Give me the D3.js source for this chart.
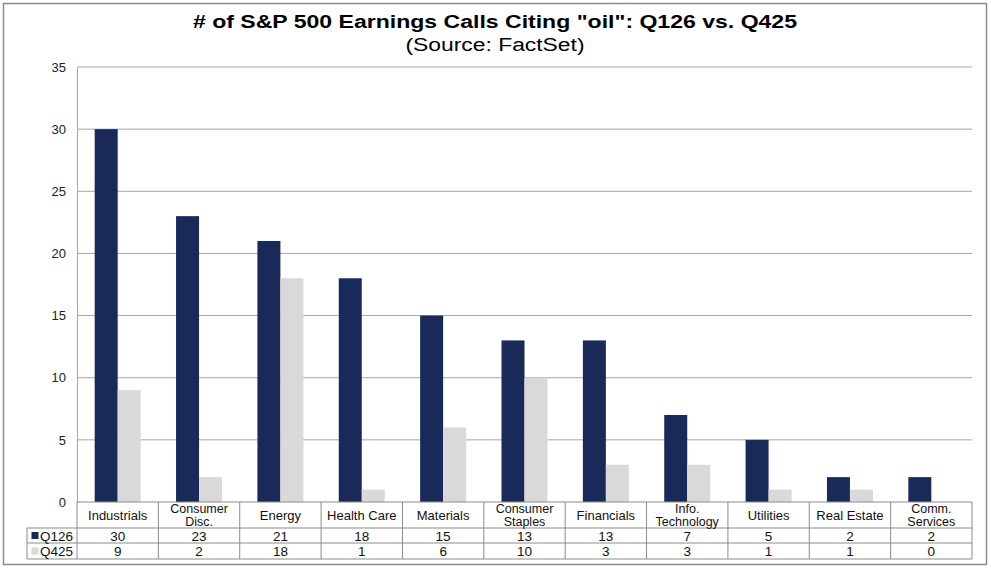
<!DOCTYPE html>
<html><head><meta charset="utf-8">
<script src="https://cdn.jsdelivr.net/npm/d3@7"></script>
<style>
body{margin:0;background:#fff;}
text{font-family:"Liberation Sans",Arial,sans-serif;}
</style></head>
<body>
<svg id="c" width="991" height="570"></svg>
<script>
const categories = ["Industrials","Consumer Disc.","Energy","Health Care","Materials","Consumer Staples","Financials","Info. Technology","Utilities","Real Estate","Comm. Services"];
const categoryLines = [["Industrials"],["Consumer","Disc."],["Energy"],["Health Care"],["Materials"],["Consumer","Staples"],["Financials"],["Info.","Technology"],["Utilities"],["Real Estate"],["Comm.","Services"]];
const seriesNames = ["Q126","Q425"];
const q126 = [30,23,21,18,15,13,13,7,5,2,2];
const q425 = [9,2,18,1,6,10,3,3,1,1,0];
const yTicks = [0,5,10,15,20,25,30,35];
const colors = ["#1a2a58","#d9d9d9"];

const svg = d3.select("#c");
const L = 77, R = 972, T = 67, B = 502;
const rowTop = [502,528,543,559];
const legL = 27;

svg.append("rect").attr("x",3.5).attr("y",3.5).attr("width",983).attr("height",561)
  .attr("fill","none").attr("stroke","#8c8c8c").attr("stroke-width",1.5);

svg.append("text").attr("x",495).attr("y",28).attr("text-anchor","middle")
  .attr("font-size",18).attr("font-weight","bold").attr("fill","#000")
  .attr("textLength",604).attr("lengthAdjust","spacingAndGlyphs")
  .text('# of S&P 500 Earnings Calls Citing "oil": Q126 vs. Q425');
svg.append("text").attr("x",495).attr("y",51).attr("text-anchor","middle")
  .attr("font-size",18).attr("fill","#000")
  .attr("textLength",179).attr("lengthAdjust","spacingAndGlyphs")
  .text("(Source: FactSet)");

const x = d3.scaleBand().domain(categories).range([L,R]).padding(0);
const y = d3.scaleLinear().domain([0,35]).range([B,T]);
const bw = 23;

svg.append("g").selectAll("line").data(yTicks.filter(d=>d>0)).join("line")
  .attr("x1",L).attr("x2",R).attr("y1",d=>y(d)).attr("y2",d=>y(d))
  .attr("stroke","#a6a6a6").attr("stroke-width",1);

const ya = svg.append("g").attr("transform",`translate(${L},0)`)
  .call(d3.axisLeft(y).tickValues(yTicks).tickSize(0).tickPadding(11));
ya.select(".domain").attr("stroke","#a6a6a6");
ya.selectAll("text").attr("font-size",13).attr("fill","#222")
  .attr("font-family","'Liberation Sans',Arial,sans-serif");

const series = [q126,q425];
series.forEach((vals,si)=>{
  svg.append("g").selectAll("rect").data(vals).join("rect")
    .attr("x",(d,i)=>x(categories[i])+x.bandwidth()/2 - bw + si*bw)
    .attr("width",bw)
    .attr("y",d=>y(d)).attr("height",d=>B-y(d))
    .attr("fill",colors[si]);
});

const tg = svg.append("g");
const stroke = "#8c8c8c";
tg.append("line").attr("x1",L).attr("x2",R).attr("y1",rowTop[0]).attr("y2",rowTop[0]).attr("stroke",stroke);
[1,2,3].forEach(k=>{
  tg.append("line").attr("x1",legL).attr("x2",R).attr("y1",rowTop[k]).attr("y2",rowTop[k]).attr("stroke",stroke);
});
tg.append("line").attr("x1",legL).attr("x2",legL).attr("y1",rowTop[1]).attr("y2",rowTop[3]).attr("stroke",stroke);
categories.concat(["_end"]).forEach((c,i)=>{
  const xx = i<categories.length ? x(c) : R;
  tg.append("line").attr("x1",xx).attr("x2",xx).attr("y1",rowTop[0]).attr("y2",rowTop[3]).attr("stroke",stroke);
});
categories.forEach((c,i)=>{
  const cx = x(c)+x.bandwidth()/2;
  const lines = categoryLines[i];
  if(lines.length===1){
    tg.append("text").attr("text-anchor","middle").attr("font-size",13).attr("fill","#111")
      .attr("x",cx).attr("y",520).text(lines[0]);
  } else {
    lines.forEach((ln,k)=>{
      tg.append("text").attr("text-anchor","middle").attr("font-size",12.5).attr("fill","#111")
        .attr("x",cx).attr("y",513 + k*13).text(ln);
    });
  }
});
series.forEach((vals,si)=>{
  const yy = (rowTop[si+1]+rowTop[si+2])/2 + 5;
  tg.append("g").selectAll("text").data(vals).join("text")
    .attr("x",(d,i)=>x(categories[i])+x.bandwidth()/2).attr("y",yy)
    .attr("text-anchor","middle").attr("font-size",13.5).attr("fill","#111")
    .text(d=>d);
  tg.append("rect").attr("x",31.5).attr("y",yy-8.5).attr("width",7).attr("height",7).attr("fill",colors[si]);
  tg.append("text").attr("x",40).attr("y",yy).attr("font-size",13.5).attr("fill","#111").text(seriesNames[si]);
});
</script>
</body></html>
